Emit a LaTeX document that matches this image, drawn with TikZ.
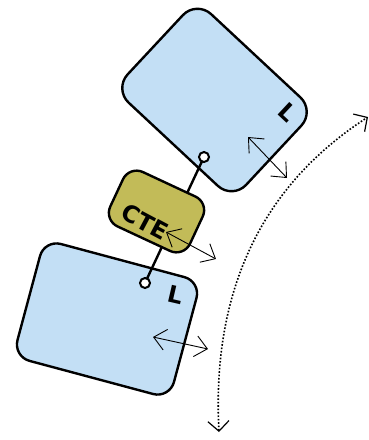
\documentclass[tikz,border=0pt]{standalone}
\usepackage{fontspec}
\newfontfamily\lblfont{DejaVu Sans}
\usetikzlibrary{arrows.meta}
\definecolor{boxblue}{HTML}{C3DFF5}
\definecolor{ctefill}{HTML}{C2BB58}
\begin{document}
\begin{tikzpicture}[x=1pt,y=-1pt,
  blockbox/.style={draw=black, line width=2.4pt, fill=boxblue, inner sep=0pt},
  ctebox/.style={draw=black, line width=2.4pt, fill=ctefill, inner sep=0pt, rounded corners=15pt, minimum width=88pt, minimum height=60pt},
  lbl/.style={font=\lblfont\bfseries\fontsize{23.5}{27}\selectfont, inner sep=0pt},
  pinc/.style={circle, draw=black, line width=2pt, fill=white, minimum size=10pt, inner sep=0pt},
  dbl/.style={line width=0.9pt, {Straight Barb[length=12pt,width=21pt]}-{Straight Barb[length=12pt,width=21pt]}},
  dotarrow/.style={line width=1.6pt, dash pattern=on 1.6pt off 1.8pt, {Straight Barb[length=10pt,width=21pt,line width=1.2pt]}-{Straight Barb[length=10pt,width=21pt,line width=1.2pt]}}
]
\useasboundingbox (0,0) rectangle (369,440);
% blocks
\node[blockbox, rounded corners=20pt, minimum width=162pt, minimum height=121pt, rotate=-43] (top) at (214.5,100) {};
\node[blockbox, rounded corners=17pt, minimum width=162pt, minimum height=121pt, rotate=-15] (bot) at (107,319) {};
% connector
\coordinate (p1) at (204,157);
\coordinate (p2) at (145,283);
\draw[line width=2.4pt] (p1) -- (p2);
\node[pinc] (c1) at (p1) {};
\node[pinc] (c2) at (p2) {};
% CTE
\node[ctebox, rotate=-25] (cte) at (156.5,211.5) {};
\node[lbl, rotate=-28] (ctel) at (145,222) {CTE};
\node[lbl, rotate=-43] (ltop) at (288,112) {L};
\node[lbl, rotate=-13] (lbot) at (176,295) {L};
% double arrows
\coordinate (a1) at (248,137);
\coordinate (b1) at (287,178);
\coordinate (a2) at (166,232);
\coordinate (b2) at (216,259);
\coordinate (a3) at (153,337);
\coordinate (b3) at (208,349);
\draw[dbl] (a1) -- (b1);
\draw[dbl] (a2) -- (b2);
\draw[dbl] (a3) -- (b3);
% dotted curve
\coordinate (d1) at (219,432);
\coordinate (d2) at (368,117);
\draw[dotarrow] (d1) .. controls (212,300) and (255,190) .. (d2);
\end{tikzpicture}
\end{document}
